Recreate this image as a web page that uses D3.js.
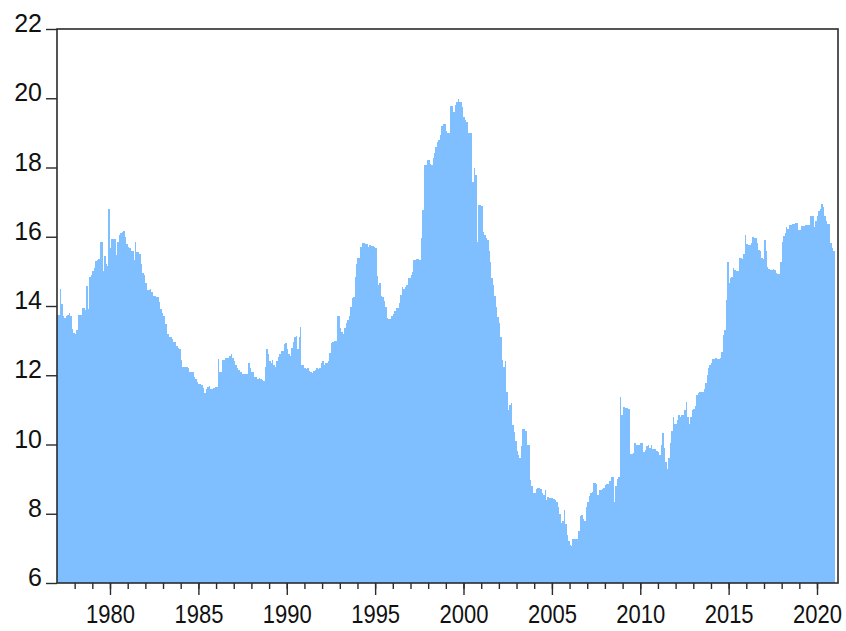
<!DOCTYPE html>
<html>
<head>
<meta charset="utf-8">
<script src="https://cdn.jsdelivr.net/npm/d3@7"></script>
<style>
  body { margin: 0; background: #fff; }
  text { font-family: "Liberation Sans", Arial, sans-serif; fill: #111; }
</style>
</head>
<body>
<div id="chart"></div>
<script>
// monthly values, Jan 1977 - Dec 2020, one row per year
var values1977to1986 = [
  13.74,13.74,14.48,14.06,13.70,13.65,13.70,13.75,13.81,13.70,13.33,13.22,
  13.20,13.30,13.73,13.73,13.73,13.95,13.95,13.88,14.58,13.90,14.85,14.90,
  15.00,15.10,15.30,15.33,15.35,15.86,15.86,15.00,15.45,15.20,15.15,16.79,
  15.67,15.94,15.94,15.94,15.47,15.85,16.05,16.10,16.15,16.18,16.00,15.80,
  15.70,15.67,15.60,15.60,15.33,15.86,15.57,15.55,15.50,15.20,14.95,14.90,
  14.65,14.45,14.45,14.50,14.40,14.30,14.28,14.25,14.25,14.12,13.90,13.81,
  13.70,13.48,13.48,13.20,13.11,13.10,13.05,12.97,12.95,12.85,12.78,12.75,
  12.44,12.25,12.25,12.25,12.25,12.22,12.10,12.10,12.08,11.96,11.90,11.81,
  11.75,11.75,11.72,11.63,11.50,11.60,11.65,11.70,11.60,11.60,11.62,11.65,
  11.65,12.47,12.10,12.10,12.44,12.45,12.49,12.49,12.50,12.55,12.61,12.49
];
var values1987to1996 = [
  12.40,12.30,12.20,12.15,12.10,12.10,12.05,12.03,12.03,12.05,12.35,12.20,
  12.10,12.08,11.96,11.95,11.90,11.92,11.88,11.85,11.83,12.24,12.75,12.60,
  12.40,12.35,12.45,12.30,12.25,12.40,12.52,12.60,12.71,12.70,12.90,12.92,
  12.75,12.60,12.55,12.80,12.95,13.11,13.13,12.75,13.10,13.38,12.30,12.30,
  12.20,12.17,12.20,12.12,12.08,12.06,12.12,12.15,12.20,12.18,12.20,12.34,
  12.40,12.30,12.34,12.34,12.40,12.63,12.92,12.95,13.00,13.00,13.71,13.70,
  13.36,13.25,13.20,13.36,13.50,13.60,13.71,13.96,14.22,14.25,14.85,15.20,
  15.38,15.40,15.71,15.81,15.81,15.78,15.78,15.70,15.76,15.72,15.72,15.70,
  15.68,14.87,14.60,14.65,14.30,14.25,14.15,13.98,13.64,13.62,13.63,13.70,
  13.77,13.85,13.95,13.95,14.10,14.32,14.56,14.50,14.55,14.60,14.80,14.80
];
var values1997to2006 = [
  14.90,14.99,15.33,15.33,15.35,15.35,15.33,15.95,16.77,18.07,18.07,18.22,
  18.22,18.10,18.07,18.27,18.43,18.60,18.75,18.80,18.94,19.20,19.26,19.25,
  19.05,19.00,19.00,19.78,19.78,19.59,19.80,19.90,19.97,19.90,19.88,19.75,
  19.45,19.37,19.30,18.99,18.99,18.99,17.59,17.98,17.79,15.86,16.92,16.92,
  16.90,16.15,16.05,15.95,15.91,15.60,15.28,14.80,14.60,14.30,13.98,13.67,
  13.50,13.11,12.44,12.23,12.40,11.52,11.00,11.15,11.21,10.56,10.37,10.11,
  9.80,9.70,9.60,9.95,10.44,10.44,10.40,9.99,9.99,8.97,8.80,8.60,
  8.60,8.71,8.73,8.73,8.71,8.60,8.55,8.68,8.41,8.48,8.46,8.45,
  8.45,8.44,8.40,8.35,8.20,8.00,7.72,7.80,8.11,7.70,7.40,7.20,
  7.10,7.08,7.27,7.28,7.27,7.27,7.50,7.94,7.96,7.85,7.80,8.19
];
var values2007to2020 = [
  8.35,8.50,8.61,8.63,8.90,8.90,8.85,8.54,8.68,8.70,8.72,8.75,
  8.82,8.87,8.87,8.95,9.05,9.07,8.35,8.80,9.00,9.07,11.38,10.85,
  11.09,11.09,11.05,11.05,11.02,9.73,9.73,9.75,10.03,9.98,9.98,10.00,
  10.03,10.03,9.79,9.85,9.95,10.00,9.90,10.00,9.88,9.88,9.87,9.82,
  9.79,9.70,10.00,10.32,9.90,9.50,9.28,9.60,10.03,10.40,10.80,10.59,
  10.59,10.70,10.86,10.80,10.84,10.84,11.00,11.24,10.80,10.60,10.80,11.00,
  11.02,11.10,11.43,11.50,11.52,11.52,11.52,11.60,11.77,12.00,12.20,12.30,
  12.35,12.46,12.46,12.50,12.47,12.46,12.50,12.67,13.16,13.30,14.17,15.28,
  14.66,14.80,14.85,15.09,15.05,15.00,15.00,15.38,15.38,15.36,15.50,16.05,
  15.80,15.76,15.76,15.82,15.98,15.97,15.95,15.82,15.62,15.60,15.40,15.36,
  15.90,15.60,15.14,15.07,15.05,15.05,15.06,15.05,14.95,14.92,14.92,15.28,
  15.86,16.02,16.10,16.29,16.23,16.34,16.35,16.36,16.38,16.41,16.41,16.20,
  16.20,16.30,16.30,16.32,16.33,16.35,16.35,16.61,16.61,16.61,16.29,16.46,
  16.60,16.75,16.80,16.95,16.85,16.60,16.45,16.38,16.38,15.83,15.67,15.60
];

var startYear = 1977;
var yTicks = [6, 8, 10, 12, 14, 16, 18, 20, 22];
var yearLabels = [1980, 1985, 1990, 1995, 2000, 2005, 2010, 2015, 2020];
var minorYears = d3.range(1978, 2021);

var values = values1977to1986.concat(values1987to1996, values1997to2006, values2007to2020);
var data = values.map(function(v, i) {
    return { date: new Date(startYear, i, 1), end: new Date(startYear, i + 1, 1), value: v };
});

var width = 846;
var height = 631;
var plotLeft = 57, plotRight = 838, plotTop = 29, plotBottom = 583;

var svg = d3.select("#chart").append("svg")
    .attr("width", width)
    .attr("height", height);

var x = d3.scaleTime()
    .domain([new Date(1977, 0, 1), new Date(2021, 2, 10)])
    .range([plotLeft, plotRight]);

var y = d3.scaleLinear()
    .domain([6, 22])
    .range([plotBottom, plotTop]);

// snap bar edges to whole pixels so neighbours meet without seams
svg.append("g")
    .attr("class", "bars")
    .attr("fill", "#80bfff")
    .attr("shape-rendering", "crispEdges")
    .selectAll("rect")
    .data(data)
    .join("rect")
    .attr("x", d => Math.round(x(d.date)))
    .attr("width", d => Math.round(x(d.end)) - Math.round(x(d.date)))
    .attr("y", d => Math.round(y(d.value)))
    .attr("height", d => Math.round(y(6)) - Math.round(y(d.value)));

// y axis
var yAxis = svg.append("g")
    .attr("transform", "translate(" + plotLeft + ",0)")
    .call(d3.axisLeft(y).tickValues(yTicks).tickSize(11).tickPadding(0).tickFormat(d3.format("d")));
yAxis.select(".domain").remove();
yAxis.selectAll(".tick line").attr("stroke", "#2b2b2b").attr("stroke-width", 1.4);
yAxis.selectAll(".tick text")
    .attr("x", -15)
    .attr("dy", "0.1em")
    .attr("fill", "#111")
    .style("font-size", "25px")
    .style("font-family", "'Liberation Sans', Arial, sans-serif");

// minor year ticks
svg.append("g")
    .attr("transform", "translate(0," + plotBottom + ")")
    .call(d3.axisBottom(x)
        .tickValues(minorYears.map(yr => new Date(yr, 0, 1)))
        .tickSize(6)
        .tickFormat(""))
    .call(g => g.select(".domain").remove())
    .selectAll(".tick line").attr("stroke", "#2b2b2b").attr("stroke-width", 1.4);

// major ticks with labels
var xAxis = svg.append("g")
    .attr("transform", "translate(0," + plotBottom + ")")
    .call(d3.axisBottom(x)
        .tickValues(yearLabels.map(yr => new Date(yr, 0, 1)))
        .tickSize(12)
        .tickPadding(8)
        .tickFormat(d3.timeFormat("%Y")));
xAxis.select(".domain").remove();
xAxis.selectAll(".tick line").attr("stroke", "#2b2b2b").attr("stroke-width", 1.4);
xAxis.selectAll(".tick text")
    .attr("y", 0)
    .attr("dy", 0)
    .attr("transform", "translate(0,40) scale(0.88,1)")
    .attr("fill", "#111")
    .style("font-size", "25px")
    .style("font-family", "'Liberation Sans', Arial, sans-serif");

// frame
svg.append("rect")
    .attr("x", plotLeft)
    .attr("y", plotTop)
    .attr("width", plotRight - plotLeft)
    .attr("height", plotBottom - plotTop)
    .attr("fill", "none")
    .attr("stroke", "#2b2b2b")
    .attr("stroke-width", 1.6);
</script>
</body>
</html>
